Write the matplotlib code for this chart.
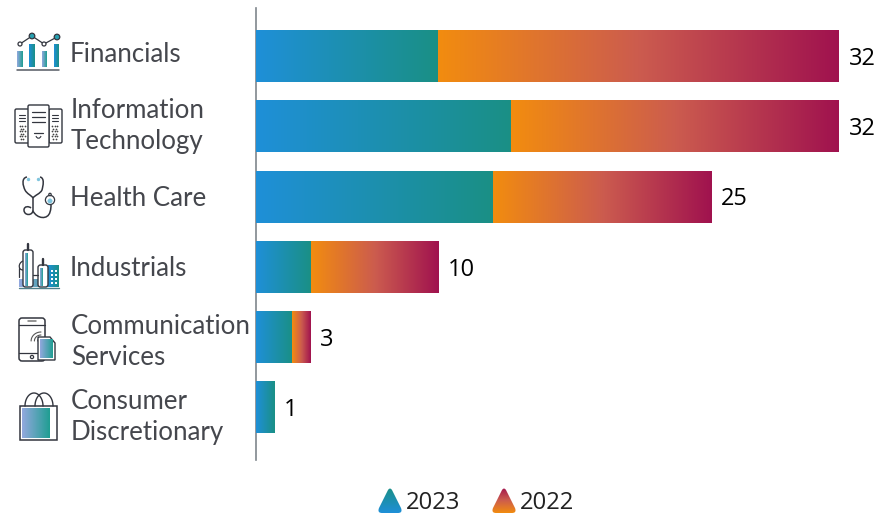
import numpy as np
import matplotlib
matplotlib.use('Agg')
import matplotlib.pyplot as plt
from matplotlib.patches import Circle, FancyBboxPatch, PathPatch, Rectangle
from matplotlib.path import Path
from matplotlib.colors import LinearSegmentedColormap as LSC

categories = ['Financials', 'Information\nTechnology', 'Health Care', 'Industrials',
              'Communication\nServices', 'Consumer\nDiscretionary']
values_2023 = [10, 14, 13, 3, 2, 1]
values_2022 = [22, 18, 12, 7, 1, 0]
series_names = ['2023', '2022']

BLUE_TEAL = LSC.from_list('bt', ['#1f8fd8', '#1a9085'])
ORANGE_RED = LSC.from_list('or', ['#f28c0f', '#cc5c4e', '#a0124f'])
PERI_TEAL = LSC.from_list('pt', ['#93a8de', '#1f9e92'])
DARK = '#33363f'
GRAD = np.linspace(0, 1, 256).reshape(1, -1)

W, H = 877, 515
fig = plt.figure(figsize=(W / 100, H / 100), dpi=100)

# chart axes, lined up with the pixel rows of the reference
ax = fig.add_axes([256 / W, 1 - 460 / H, (W - 256) / W, 452 / H])
xlim = (0, 621 / 18.22)
ylim = (5.747, -0.683)


def gradient_bar(bar, cmap):
    if bar.get_width() <= 0:
        return
    x0, y0 = bar.get_x(), bar.get_y()
    im = ax.imshow(GRAD, cmap=cmap, aspect='auto', zorder=3, interpolation='bilinear',
                   extent=(x0, x0 + bar.get_width(), y0 + bar.get_height(), y0))
    im.set_clip_path(bar)


y = np.arange(len(categories))
bars_a = ax.barh(y, values_2023, height=0.74, color='none', linewidth=0)
bars_b = ax.barh(y, values_2022, height=0.74, left=values_2023, color='none', linewidth=0)
for b in bars_a:
    gradient_bar(b, BLUE_TEAL)
for b in bars_b:
    gradient_bar(b, ORANGE_RED)

for i, (a, b) in enumerate(zip(values_2023, values_2022)):
    ax.annotate(str(a + b), xy=(a + b, i), xytext=(6.8, -2), textcoords='offset points',
                va='center', ha='left', fontsize=17, family='Open Sans', color='#000000')

ax.set_xlim(xlim)
ax.set_ylim(ylim)
ax.set_xticks([])
ax.set_yticks([])
for s in ['top', 'right', 'bottom']:
    ax.spines[s].set_visible(False)
ax.spines['left'].set_color('#7f868c')
ax.spines['left'].set_linewidth(1.2)
ax.patch.set_alpha(0)

# overlay in pixel coordinates for category labels, icons and legend
ov = fig.add_axes([0, 0, 1, 1])
ov.set_xlim(0, W)
ov.set_ylim(H, 0)
ov.axis('off')
ov.patch.set_alpha(0)

label_x = [70, 71, 70, 70, 71, 71]
label_y = [55, 126, 199, 269, 342, 417]
for i, lab in enumerate(categories):
    ov.text(label_x[i], label_y[i], lab, fontsize=18.6, family='Lato', color='#45474d',
            va='center', ha='left', linespacing=1.28)


def line(xs, ys, lw=1.0, c=DARK):
    ov.plot(xs, ys, color=c, lw=lw, solid_capstyle='round', solid_joinstyle='round', zorder=6)


def curve(pts, lw=1.1):
    codes = [Path.MOVETO] + [Path.CURVE4] * (len(pts) - 1)
    ov.add_patch(PathPatch(Path(pts, codes), fc='none', ec=DARK, lw=lw, zorder=6))


def grad_rect(x0, y0, x1, y1, cmap=PERI_TEAL, z=4):
    ov.imshow(GRAD, cmap=cmap, aspect='auto', extent=(x0, x1, y1, y0), zorder=z)


def box(x0, y0, x1, y1, r=1.5, lw=1.0, fc='white', z=3, c=DARK):
    ov.add_patch(FancyBboxPatch((x0 + r, y0 + r), x1 - x0 - 2 * r, y1 - y0 - 2 * r,
                                boxstyle='round,pad=%g,rounding_size=%g' % (r, r),
                                fc=fc, ec=c, lw=lw, zorder=z))


def dot(x, y, r, fc='white', ec=DARK, lw=0.9, z=7):
    ov.add_patch(Circle((x, y), r, fc=fc, ec=ec, lw=lw, zorder=z))


# financials
for x0, x1, top, cm in [(17, 23, 51, PERI_TEAL), (29, 35, 44, BLUE_TEAL),
                        (42, 47, 51, PERI_TEAL), (54, 59, 44, BLUE_TEAL)]:
    grad_rect(x0, top, x1, 67, cm)
line([17, 59], [70, 70], 1.1, '#555a63')
line([20, 32, 44, 57], [44, 36, 44, 37], 0.9)
for px, py, fc in [(20, 44, 'white'), (32, 36, '#27a0b0'), (44, 44, 'white'), (57, 37, '#27a0b0')]:
    dot(px, py, 2.0 if fc == 'white' else 2.8, fc=fc)

# information technology
box(15, 109, 30, 143, z=2)
box(49, 109, 62, 143, z=2)
box(28, 105, 49, 147, z=3)
for yy in [112, 117, 122]:
    line([32, 45], [yy, yy], 0.9)
line([34, 43], [133, 133], 0.9)
curve([(36, 136), (37, 139), (40, 139), (41, 136)], 0.8)
for x0, x1 in [(19, 25), (51.5, 57.5)]:
    for yy in [115, 118, 121]:
        line([x0, x1], [yy, yy], 0.8)
    for row, yy in enumerate(np.arange(126, 140, 2.6)):
        xs = [x0 + 0.5, x0 + 3, x0 + 5.5] if row % 2 == 0 else [x0 + 1.7, x0 + 4.3]
        ov.scatter(xs, [yy] * len(xs), s=1.6, color='#444444', linewidths=0, zorder=6)

# health care stethoscope
curve([(27, 177), (21, 178), (23, 186), (25, 190), (27, 194), (31, 195), (33, 198)])
curve([(40, 177), (45, 178), (43, 186), (42, 190), (40, 194), (35, 195), (33, 198)])
line([33, 33], [198, 210], 1.1)
curve([(33, 210), (33, 216), (24, 216), (24, 210), (24, 206), (29, 206), (31, 208)])
curve([(33, 211), (37, 219), (48, 220), (50, 212), (51, 209), (51, 207), (51, 205)])
ov.scatter([28, 38], [179, 179], s=6, color='#7fc4dd', linewidths=0, zorder=7)
dot(50, 200, 4.6)
dot(50, 201, 2.2, fc='#7fc4dd', ec='#7fc4dd', lw=0.3)
dot(50, 194.5, 1.2)

# industrials
grad_rect(19, 279, 59, 287, PERI_TEAL, z=2)
grad_rect(48, 265, 59, 287, BLUE_TEAL, z=2)
for x0, x1, top in [(23, 33, 250), (38, 48, 265)]:
    box(x0, top, x1, 287, r=2.5, fc='white', lw=1.0)
    grad_rect(x0 + 2, top + 3, (x0 + x1) / 2, 286, PERI_TEAL)
    line([(x0 + x1) / 2] * 2, [top, top - 6], 1.7)
line([19, 59], [287.5, 287.5], 1.0, '#4f7f8a')
curve([(23, 261), (18, 263), (18, 270), (23, 270)], 0.9)
line([19, 19], [268, 277], 0.9)
line([33, 38], [275, 275], 0.9)
for xx in [52, 56]:
    for yy in [270, 274, 278, 282]:
        ov.add_patch(Rectangle((xx - 1, yy), 2, 2, fc='white', ec='none', zorder=4))

# communication services
box(19, 318, 45, 361, r=3, lw=1.1)
line([19, 45], [325, 325], 0.9)
line([19, 38], [353, 353], 0.9)
line([28, 36], [321, 321], 1.1, '#777777')
dot(32, 357, 1.6)
for r_ in [3, 6, 9]:
    a = np.linspace(np.pi, 1.5 * np.pi, 12)
    line(41 + r_ * np.cos(a) * 1.1, 341 + r_ * np.sin(a), 0.8, '#555555')
ov.add_patch(PathPatch(Path([(38, 337), (50, 337), (55, 343), (55, 360), (38, 360), (38, 337)]),
                       fc='white', ec=DARK, lw=1.0, zorder=7))
ov.imshow(GRAD, cmap=PERI_TEAL, aspect='auto', extent=(40, 53, 358, 339), zorder=8)

# consumer discretionary
a = np.linspace(np.pi, 2 * np.pi, 30)
line(34 + 9 * np.cos(a), 406 + 13 * np.sin(a), 1.0)
line(44 + 9 * np.cos(a), 406 + 13 * np.sin(a), 1.0)
ov.add_patch(Rectangle((19.5, 406), 37.5, 34, fc='white', ec=DARK, lw=1.1, zorder=3))
grad_rect(22, 408.5, 50, 438)

# legend
for x0, cm, name, tx in [(378, BLUE_TEAL, series_names[0], 406), (492, ORANGE_RED, series_names[1], 520)]:
    x1, xm, y0, y1 = x0 + 24, x0 + 12, 488, 513
    verts = [(xm - 2, y0 + 2), (xm, y0 - 1), (xm + 2, y0 + 2), (x1 - 1, y1 - 5), (x1 + 1, y1), (x1 - 4, y1),
             (x0 + 4, y1), (x0 - 1, y1), (x0 + 1, y1 - 5), (xm - 2, y0 + 2), (xm - 2, y0 + 2)]
    codes = [Path.MOVETO, Path.CURVE3, Path.CURVE3, Path.LINETO, Path.CURVE3, Path.CURVE3,
             Path.LINETO, Path.CURVE3, Path.CURVE3, Path.LINETO, Path.CLOSEPOLY]
    tri = PathPatch(Path(verts, codes), fc='none', ec='none')
    ov.add_patch(tri)
    im = ov.imshow(GRAD.T[::-1], cmap=cm, aspect='auto', extent=(x0 - 1, x1 + 1, y1, y0 - 1), zorder=3)
    im.set_clip_path(tri)
    ov.text(tx, 503, name, fontsize=17.2, family='Open Sans', color='#222222', va='center', ha='left')

ov.set_xlim(0, W)
ov.set_ylim(H, 0)

fig.savefig('out.png', dpi=100)
